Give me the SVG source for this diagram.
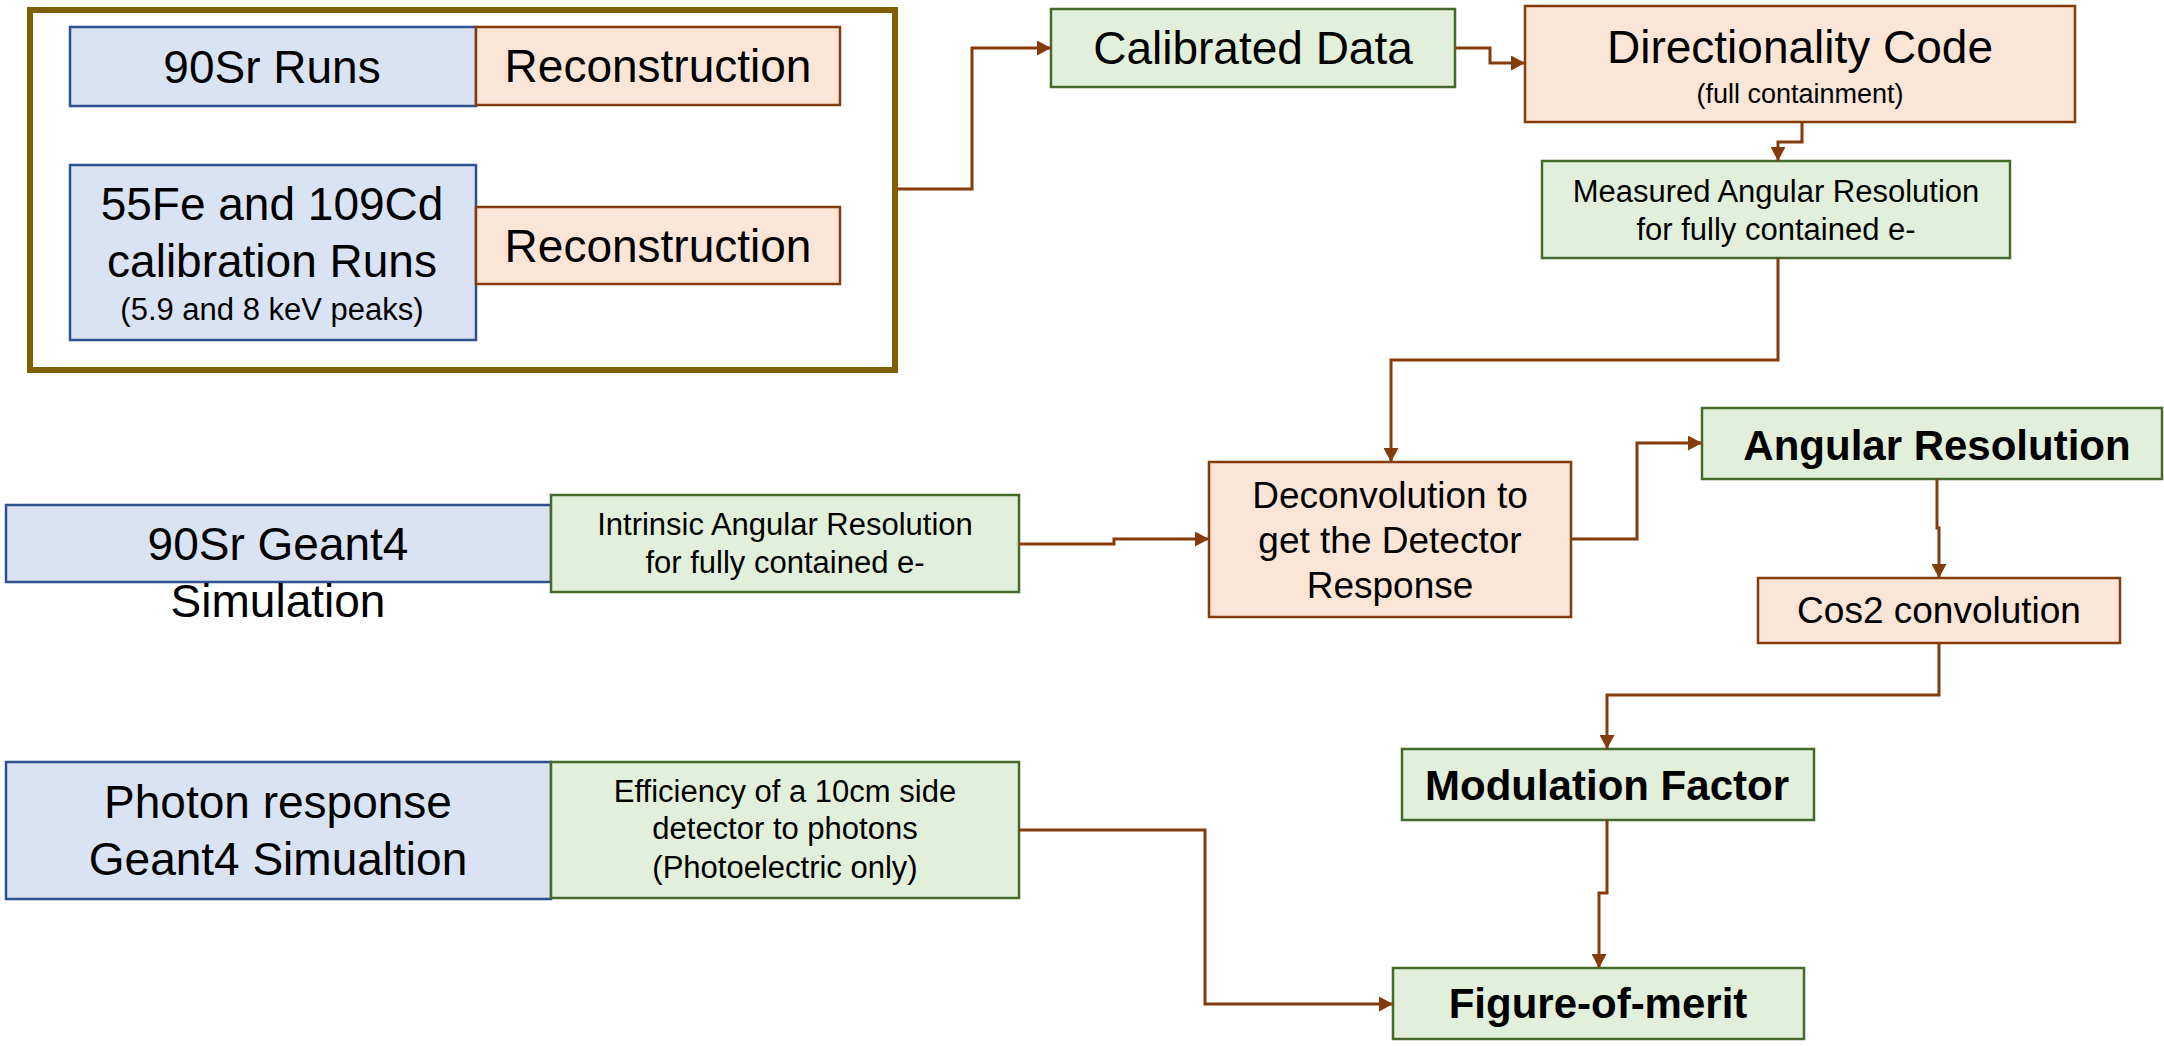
<svg xmlns="http://www.w3.org/2000/svg" width="2164" height="1046" viewBox="0 0 2164 1046">
  <style>
    text { font-family: "Liberation Sans", Arial, sans-serif; fill: #000; text-anchor: middle; }
    .blue { fill: #DAE3F3; stroke: #2F528F; stroke-width: 2.5; }
    .orange { fill: #FBE5D6; stroke: #843C0C; stroke-width: 2.5; }
    .green { fill: #E2EFDA; stroke: #46692E; stroke-width: 2.5; }
    .frame { fill: none; stroke: #7F6000; stroke-width: 6; }
    .conn path { fill: none; stroke: #843C0C; stroke-width: 3; marker-end: url(#arrow); }
    .t46 { font-size: 46px; }
    .t42b { font-size: 42px; font-weight: bold; }
    .t37 { font-size: 37px; }
    .t31 { font-size: 31px; }
    .t27 { font-size: 27px; }
  </style>
  <defs>
    <marker id="arrow" viewBox="0 0 14 15" refX="14" refY="7.5" markerWidth="14" markerHeight="15" markerUnits="userSpaceOnUse" orient="auto">
      <path d="M0,0 L14,7.5 L0,15 Z" fill="#843C0C"/>
    </marker>
  </defs>

  <rect width="2164" height="1046" fill="#fff"/>

  <!-- data-taking frame -->
  <g id="data-frame">
    <rect class="frame" x="30" y="10" width="865" height="360"/>
  </g>

  <g id="sr90-runs">
    <rect class="blue" x="70" y="27" width="406" height="79"/>
    <text class="t46" x="272" y="83">90Sr Runs</text>
  </g>
  <g id="reco-1">
    <rect class="orange" x="476" y="27" width="364" height="78"/>
    <text class="t46" x="658" y="82">Reconstruction</text>
  </g>
  <g id="calib-runs">
    <rect class="blue" x="70" y="165" width="406" height="175"/>
    <text class="t46" x="272" y="220">55Fe and 109Cd</text>
    <text class="t46" x="272" y="277">calibration Runs</text>
    <text class="t31" x="272" y="320">(5.9 and 8 keV peaks)</text>
  </g>
  <g id="reco-2">
    <rect class="orange" x="476" y="207" width="364" height="77"/>
    <text class="t46" x="658" y="262">Reconstruction</text>
  </g>

  <g id="calibrated-data">
    <rect class="green" x="1051" y="9" width="404" height="78"/>
    <text class="t46" x="1253" y="64">Calibrated Data</text>
  </g>
  <g id="directionality-code">
    <rect class="orange" x="1525" y="6" width="550" height="116"/>
    <text class="t46" x="1800" y="63">Directionality Code</text>
    <text class="t27" x="1800" y="103">(full containment)</text>
  </g>
  <g id="measured-resolution">
    <rect class="green" x="1542" y="161" width="468" height="97"/>
    <text class="t31" x="1776" y="202">Measured Angular Resolution</text>
    <text class="t31" x="1776" y="240">for fully contained e-</text>
  </g>

  <g id="sr90-geant4">
    <rect class="blue" x="6" y="505" width="545" height="77"/>
    <text class="t46" x="278" y="560">90Sr Geant4</text>
    <text class="t46" x="278" y="617">Simulation</text>
  </g>
  <g id="intrinsic-resolution">
    <rect class="green" x="551" y="495" width="468" height="97"/>
    <text class="t31" x="785" y="535">Intrinsic Angular Resolution</text>
    <text class="t31" x="785" y="573">for fully contained e-</text>
  </g>
  <g id="deconvolution">
    <rect class="orange" x="1209" y="462" width="362" height="155"/>
    <text class="t37" x="1390" y="508">Deconvolution to</text>
    <text class="t37" x="1390" y="553">get the Detector</text>
    <text class="t37" x="1390" y="598">Response</text>
  </g>
  <g id="angular-resolution">
    <rect class="green" x="1702" y="408" width="460" height="71"/>
    <text class="t42b" x="1937" y="460">Angular Resolution</text>
  </g>
  <g id="cos2-convolution">
    <rect class="orange" x="1758" y="578" width="362" height="65"/>
    <text class="t37" x="1939" y="623">Cos2 convolution</text>
  </g>
  <g id="modulation-factor">
    <rect class="green" x="1402" y="749" width="412" height="71"/>
    <text class="t42b" x="1607" y="800">Modulation Factor</text>
  </g>

  <g id="photon-response">
    <rect class="blue" x="6" y="762" width="545" height="137"/>
    <text class="t46" x="278" y="818">Photon response</text>
    <text class="t46" x="278" y="875">Geant4 Simualtion</text>
  </g>
  <g id="efficiency">
    <rect class="green" x="551" y="762" width="468" height="136"/>
    <text class="t31" x="785" y="802">Efficiency of a 10cm side</text>
    <text class="t31" x="785" y="839">detector to photons</text>
    <text class="t31" x="785" y="878">(Photoelectric only)</text>
  </g>
  <g id="figure-of-merit">
    <rect class="green" x="1393" y="968" width="411" height="71"/>
    <text class="t42b" x="1598" y="1018">Figure-of-merit</text>
  </g>

  <!-- connectors -->
  <g id="connectors" class="conn">
    <path d="M898,189 H972 V48 H1051"/>
    <path d="M1455,48 H1490 V63 H1525"/>
    <path d="M1802,122 V142 H1778 V161"/>
    <path d="M1778,258 V360 H1391 V462"/>
    <path d="M1019,544 H1114 V539 H1209"/>
    <path d="M1571,539 H1637 V443 H1702"/>
    <path d="M1937,479 V528 H1939 V578"/>
    <path d="M1939,643 V695 H1607 V749"/>
    <path d="M1607,820 V893 H1599 V968"/>
    <path d="M1019,830 H1205 V1004 H1393"/>
  </g>
</svg>
